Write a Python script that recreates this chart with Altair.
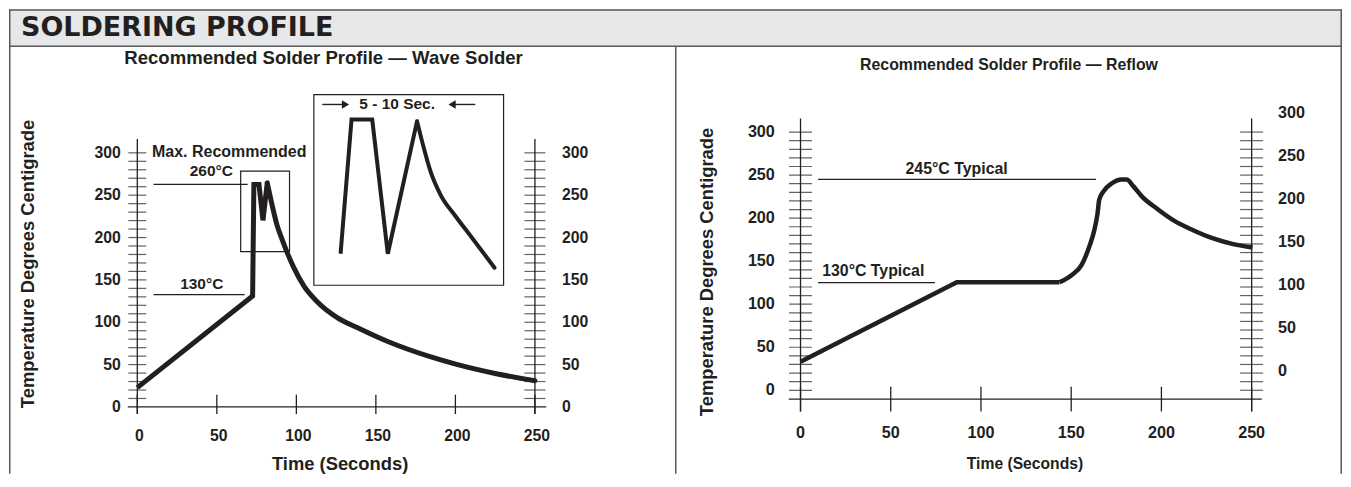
import altair as alt
import pandas as pd

# ---------------- data ----------------
# Wave solder profile (time in s, temperature in °C)
wave_time = [0, 72.5, 73.3, 76.5, 79.0, 81.7, 84.8, 87.8, 91.2, 94.5, 98.4, 104.7,
             113.1, 125.7, 138.2, 157.1, 184.6, 200.2, 225.0, 250.0]
wave_temp = [22.8, 131.0, 262.7, 262.7, 220.3, 264.6, 238.0, 215.0, 197.0, 181.0, 164.4, 142.9,
             124.2, 105.5, 93.7, 77.5, 59.0, 50.5, 39.5, 31.0]
WAVE_PEAK = 5            # index of the last sharp corner (second peak)

# magnified inset of the wave peak ("5 - 10 Sec."), drawn in the panel's own units
inset_time = [127.8, 134.7, 147.7, 157.5, 175.9, 180.1, 184.3, 190.5, 200.0, 210.4, 224.6]
inset_temp = [180.9, 339.4, 339.4, 180.9, 337.4, 305.9, 278.4, 251.0, 225.4, 199.8, 164.4]
INSET_PEAK = 4

# Reflow profile
reflow_time = [0, 86.6, 143.5, 150.2, 155.7, 160.0, 162.8, 164.6, 165.5, 167.7, 172.4, 177.9,
               180.7, 184.4, 189.0, 197.4, 206.5, 217.6, 228.7, 239.8, 250.5]
reflow_temp = [33.0, 125.5, 125.5, 133.7, 145.3, 166.7, 186.0, 205.4, 221.0, 230.6, 240.3, 245.0,
               245.0, 237.2, 225.6, 211.2, 197.7, 186.0, 176.4, 169.8, 165.9]
REFLOW_SOAK_END = 2

x_tick_labels = [0, 50, 100, 150, 200, 250]
y_tick_labels = [0, 50, 100, 150, 200, 250, 300]
wave_minor_ticks = list(range(10, 301, 10))
reflow_minor_ticks = list(range(0, 301, 10))

# annotation values (°C / s)
wave_max_level = 262.8
wave_preheat_level = 132.5
reflow_peak_level = 245.0
reflow_soak_level = 125.1
reflow_right_shift = 22.4   # the right-hand scale of the reflow plot is printed shifted

# ---------------- styling ----------------
INK = "#231f20"
FRAME = "#58595b"
BAND = "#e6e7e8"
FONT = "Liberation Sans"
H = 465
W_L, W_R = 667, 668
BAND_H = 37

one = pd.DataFrame({"k": [0]})


def pix_rect(x0, x1, y0, y1, fill):
    return alt.Chart(one).mark_rect(fill=fill, strokeWidth=0).encode(
        x=alt.value(x0), x2=alt.value(x1), y=alt.value(y0), y2=alt.value(y1))


def pix_rule(x0, x1, y0, y1, color=FRAME, w=1.5):
    return alt.Chart(one).mark_rule(color=color, strokeWidth=w).encode(
        x=alt.value(x0), x2=alt.value(x1), y=alt.value(y0), y2=alt.value(y1))


def pix_text(s, x, y, size, angle=0, align="center", baseline="middle", font=FONT):
    kw = dict(text=s, fontSize=size, font=font, fontWeight="bold", align=align,
              baseline=baseline, color=INK)
    if angle:
        kw["angle"] = angle
    return alt.Chart(one).mark_text(**kw).encode(x=alt.value(x), y=alt.value(y))


def build_panel(c):
    xs = alt.Scale(domain=c["xdom"], nice=False, zero=False)
    ys = alt.Scale(domain=c["ydom"], nice=False, zero=False)

    def X(f):
        return alt.X(f, type="quantitative", scale=xs, axis=None)

    def Y(f):
        return alt.Y(f, type="quantitative", scale=ys, axis=None)

    W = c["W"]
    L = []
    # header band + frame
    L.append(pix_rect(0, W, 0, BAND_H, BAND))
    L.append(pix_rule(0, W, 0.75, 0.75))
    L.append(pix_rule(0, W, BAND_H, BAND_H))
    for (xe, y0) in c["frame_v"]:
        L.append(pix_rule(xe, xe, y0, H))

    # boxes
    for (x0, x1, y0, y1) in c.get("boxes", []):
        b = pd.DataFrame({"x0": [x0], "x1": [x1], "y0": [y0], "y1": [y1]})
        L.append(alt.Chart(b).mark_rect(fill="white", fillOpacity=0, stroke=INK, strokeWidth=1.2).encode(
            x=X("x0"), x2=alt.X2("x1"), y=Y("y0"), y2=alt.Y2("y1")))

    # leader lines
    for (x0, x1, lvl) in c["leaders"]:
        d = pd.DataFrame({"x0": [x0], "x1": [x1], "y": [lvl]})
        L.append(alt.Chart(d).mark_rule(color=INK, strokeWidth=1.2).encode(
            x=X("x0"), x2=alt.X2("x1"), y=Y("y")))

    # y axis lines
    ax = pd.DataFrame({"x": c["axis_pos"], "y0": [c["ax_lo"]] * 2, "y1": [c["ax_hi"]] * 2})
    L.append(alt.Chart(ax).mark_rule(color=INK, strokeWidth=1.3).encode(
        x=X("x"), y=Y("y0"), y2=alt.Y2("y1")))
    # x axis line
    xl = pd.DataFrame({"x0": [c["xl_lo"]], "x1": [c["xl_hi"]], "y": [c["x_axis_T"]]})
    L.append(alt.Chart(xl).mark_rule(color=INK, strokeWidth=1.3).encode(
        x=X("x0"), x2=alt.X2("x1"), y=Y("y")))
    # x major ticks
    xt = pd.DataFrame({"x": x_tick_labels, "y0": c["ax_lo"], "y1": c["xt_hi"]})
    L.append(alt.Chart(xt).mark_rule(color=INK, strokeWidth=1.3).encode(
        x=X("x"), y=Y("y0"), y2=alt.Y2("y1")))
    # y ticks (cross style)
    for pos, size in zip(c["axis_pos"], c["tick_sizes"]):
        yt = pd.DataFrame({"T": c["minor"], "ax": pos})
        L.append(alt.Chart(yt).mark_tick(orient="horizontal", size=size, thickness=1.2, color=INK).encode(
            x=X("ax"), y=Y("T")))

    # tick labels
    tk = dict(font=FONT, fontWeight="bold", fontSize=c["tick_fs"], color=INK, baseline="middle")
    yl = pd.DataFrame({"v": y_tick_labels, "ax": c["axis_pos"][0]})
    L.append(alt.Chart(yl).mark_text(align="right", dx=c["ldx"], **tk).encode(
        x=X("ax"), y=Y("v"), text=alt.Text("v:N")))
    yr = pd.DataFrame({"v": y_tick_labels, "ax": c["axis_pos"][1]})
    L.append(alt.Chart(yr).transform_calculate(pos=f"datum.v + {c['rshift']}").mark_text(
        align="left", dx=c["rdx"], **tk).encode(x=X("ax"), y=Y("pos"), text=alt.Text("v:N")))
    xlb = pd.DataFrame({"v": x_tick_labels, "y": c["x_axis_T"]})
    L.append(alt.Chart(xlb).mark_text(align="center", dy=c["xdy"], dx=c["xdx"], **tk).encode(
        x=X("v"), y=Y("y"), text=alt.Text("v:N")))

    # curves: (time, temp, width, interpolation, cap)
    for (tt, TT, w, interp, cap) in c["curves"]:
        d = pd.DataFrame({"t": tt, "T": TT, "i": list(range(len(tt)))})
        L.append(alt.Chart(d).mark_line(color=INK, strokeWidth=w, strokeJoin="miter", strokeCap=cap,
                                        interpolate=interp).encode(
            x=X("t"), y=Y("T"), order=alt.Order("i:Q")))

    # arrows
    for (x0, x1, xh, lvl, shape) in c.get("arrows", []):
        d = pd.DataFrame({"x0": [x0], "x1": [x1], "y": [lvl]})
        L.append(alt.Chart(d).mark_rule(color=INK, strokeWidth=1.4).encode(
            x=X("x0"), x2=alt.X2("x1"), y=Y("y")))
        h = pd.DataFrame({"x": [xh], "y": [lvl]})
        L.append(alt.Chart(h).mark_point(shape=shape, filled=True, size=70, color=INK, opacity=1).encode(
            x=X("x"), y=Y("y")))

    # annotations
    for (s, t, T, fs) in c["notes"]:
        d = pd.DataFrame({"t": [t], "T": [T], "s": [s]})
        L.append(alt.Chart(d).mark_text(font=FONT, fontWeight="bold", fontSize=fs, color=INK,
                                        align="center", baseline="middle").encode(
            x=X("t"), y=Y("T"), text=alt.Text("s:N")))

    # titles
    for (s, x, y, fs, ang) in c["titles"]:
        L.append(pix_text(s, x, y, fs, angle=ang))
    L.extend(c.get("extra", []))
    return alt.layer(*L).properties(width=W, height=H)


left_cfg = dict(
    W=W_L,
    xdom=[-80.68, 338.08], ydom=[-78.74, 469.39],
    frame_v=[(0.75, 0)],
    boxes=[(65.0, 95.7, 278.4, 183.3), (111.0, 230.3, 368.8, 143.7)],
    leaders=[(10.2, 69.4, wave_max_level), (10.2, 67.5, wave_preheat_level)],
    axis_pos=[0, 250], ax_lo=-8.4, ax_hi=316.2,
    xl_lo=-6.0, xl_hi=257.1, x_axis_T=0, xt_hi=14.4,
    minor=wave_minor_ticks, tick_sizes=[18, 21],
    tick_fs=15.8, ldx=-16.5, rdx=27.1, rshift=0, xdy=28.8, xdx=2,
    curves=[(wave_time[:WAVE_PEAK + 1], wave_temp[:WAVE_PEAK + 1], 5, "linear", "butt"),
            (wave_time[WAVE_PEAK:], wave_temp[WAVE_PEAK:], 5, "monotone", "round"),
            (inset_time[:INSET_PEAK + 1], inset_temp[:INSET_PEAK + 1], 4, "linear", "butt"),
            (inset_time[INSET_PEAK:], inset_temp[INSET_PEAK:], 4, "monotone", "round")],
    arrows=[(116.3, 130.0, 130.9, 357.1, "triangle-right"),
            (199.0, 212.5, 197.9, 357.1, "triangle-left")],
    notes=[("Max. Recommended", 57.8, 300.8, 16),
           ("260°C", 46.5, 278.4, 15.5),
           ("130°C", 40.5, 144.9, 15.5),
           ("5 - 10 Sec.", 163.4, 357.1, 15.5)],
    titles=[("Recommended Solder Profile — Wave Solder", 315, 49, 18.6, 0),
            ("Temperature Degrees Centigrade", 19, 255, 18.4, 270),
            ("Time (Seconds)", 331.6, 455, 18.4, 0)],
    extra=[pix_text("SOLDERING PROFILE", 12, 27, 27, align="left", baseline="alphabetic",
                    font="DejaVu Sans")],
)

right_cfg = dict(
    W=W_R,
    xdom=[-69.56, 300.08], ydom=[-96.87, 442.58],
    frame_v=[(0.75, BAND_H), (W_R - 0.75, 0)],
    leaders=[(9.74, 163.8, reflow_peak_level), (9.74, 74.5, reflow_soak_level)],
    axis_pos=[0, 250], ax_lo=-24.6, ax_hi=315.8,
    xl_lo=-6.5, xl_hi=255.6, x_axis_T=-10.2, xt_hi=4.06,
    minor=reflow_minor_ticks, tick_sizes=[23, 23],
    tick_fs=16.2, ldx=-25.7, rdx=26.5, rshift=reflow_right_shift, xdy=34.4, xdx=0,
    curves=[(reflow_time[:REFLOW_SOAK_END + 1], reflow_temp[:REFLOW_SOAK_END + 1], 4.5, "linear", "butt"),
            (reflow_time[REFLOW_SOAK_END:], reflow_temp[REFLOW_SOAK_END:], 4.5, "monotone", "butt")],
    notes=[("245°C Typical", 86.5, 257.3, 15.9),
           ("130°C Typical", 40.3, 138.6, 15.9)],
    titles=[("Recommended Solder Profile — Reflow", 334.5, 55.3, 15.9, 0),
            ("Temperature Degrees Centigrade", 32.5, 263, 18.4, 270),
            ("Time (Seconds)", 350.5, 455, 15.7, 0)],
)

chart = alt.hconcat(build_panel(left_cfg), build_panel(right_cfg), spacing=0, bounds="flush",
                    padding=0).configure_view(strokeWidth=0)

chart.save("out.html", embed_options={"renderer": "svg", "actions": False})
